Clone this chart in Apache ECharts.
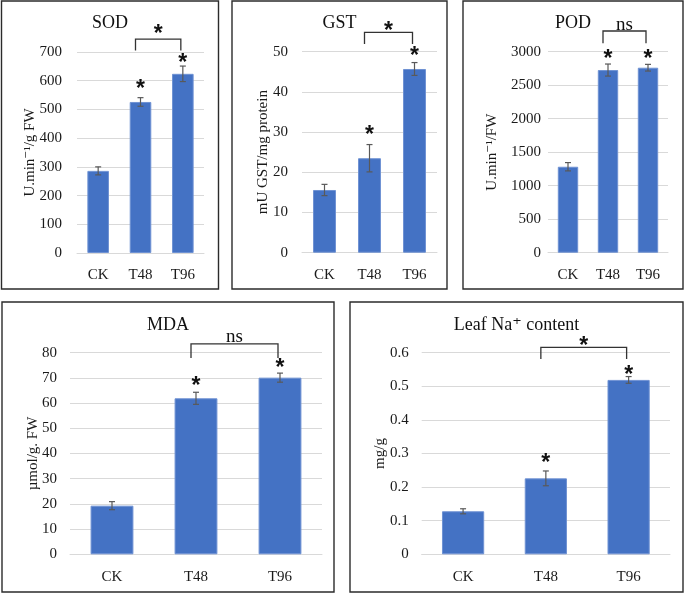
<!DOCTYPE html>
<html><head><meta charset="utf-8">
<script src="https://cdn.jsdelivr.net/npm/echarts/dist/echarts.min.js"></script>
<style>html,body{margin:0;padding:0;background:#fff}#c{width:685px;height:594px}</style>
</head><body><div id="c"></div>
<script>
// ---- data ----
const categories = ['CK', 'T48', 'T96'];

const sodValues = [286, 526, 624];
const sodErrors = [14, 15, 27];
const sodStars = [null, 585, 676];
const sodBracket = [1, 2, 745, 705, 777, '*'];
const sodTicks = [0, 700, 100];

const gstValues = [15.6, 23.5, 45.7];
const gstErrors = [1.4, 3.4, 1.6];
const gstStars = [null, 30.3, 50.0];
const gstBracket = [1, 2, 54.8, 51.9, 56.2, '*'];
const gstTicks = [0, 50, 10];

const podValues = [1283, 2726, 2761];
const podErrors = [62, 90, 50];
const podStars = [null, 2950, 2950];
const podBracket = [1, 2, 3309, 3125, 3398, 'ns'];
const podTicks = [0, 3000, 500];

const mdaValues = [19.3, 61.9, 70.1];
const mdaErrors = [1.6, 2.4, 1.8];
const mdaStars = [null, 68.5, 75.5];
const mdaBracket = [1, 2, 83.5, 77.9, 86.3, 'ns'];
const mdaTicks = [0, 80, 10];

const naValues = [0.128, 0.226, 0.519];
const naErrors = [0.0075, 0.022, 0.01];
const naStars = [null, 0.286, 0.548];
const naBracket = [1, 2, 0.616, 0.581, 0.633, '*'];
const naTicks = [0, 0.6, 0.1];

const titles = ['SOD', 'GST', 'POD', 'MDA', 'Leaf Na\u207A content'];
const yNames = ['U.min\u207B\u00B9/g FW', 'mU GST/mg protein', 'U.min\u207B\u00B9/FW', '\u00B5mol/g. FW', 'mg/g'];

// ---- layout / style ----
const SERIF = '"Liberation Serif", "DejaVu Serif", serif';
const SANS = '"Liberation Sans", Arial, sans-serif';
const panels = [
  {v: sodValues, e: sodErrors, s: sodStars, b: sodBracket, t: sodTicks, grid: {left: 77, top: 52, width: 127, height: 201}, box: [1.5, 1, 217, 288], titleY: 23, nameGap: 39, labelMargin: 15},
  {v: gstValues, e: gstErrors, s: gstStars, b: gstBracket, t: gstTicks, grid: {left: 302, top: 51.7, width: 135, height: 201}, box: [232, 1, 215, 288], titleY: 23, nameGap: 31, labelMargin: 14},
  {v: podValues, e: podErrors, s: podStars, b: podBracket, t: podTicks, grid: {left: 548, top: 51.7, width: 120, height: 201}, box: [463, 1, 220, 288], titleY: 23, nameGap: 48, labelMargin: 7},
  {v: mdaValues, e: mdaErrors, s: mdaStars, b: mdaBracket, t: mdaTicks, grid: {left: 70, top: 352.7, width: 252, height: 201.6}, box: [2, 302, 332, 290], titleY: 325, nameGap: 29, labelMargin: 13},
  {v: naValues, e: naErrors, s: naStars, b: naBracket, t: naTicks, grid: {left: 421.7, top: 352.7, width: 248.3, height: 201.6}, box: [350, 302, 333, 290], titleY: 325, nameGap: 34, labelMargin: 13}
];

const grids = [], xAxes = [], yAxes = [], series = [], graphics = [];
const starStyle = {text: '*', fontFamily: SANS, fontSize: 23, fontWeight: 'bold', fill: '#111', align: 'center', verticalAlign: 'middle'};

panels.forEach((p, k) => {
  grids.push(Object.assign({containLabel: false}, p.grid));
  xAxes.push({
    type: 'category', gridIndex: k, data: categories,
    axisLine: {lineStyle: {color: '#d9d9d9', width: 1}},
    axisTick: {show: false},
    axisLabel: {fontFamily: SERIF, fontSize: 15, color: '#1a1a1a', margin: 15}
  });
  yAxes.push({
    type: 'value', gridIndex: k, min: p.t[0], max: p.t[1], interval: p.t[2],
    name: yNames[k], nameLocation: 'middle', nameGap: p.nameGap, nameMoveOverlap: false,
    nameTextStyle: {fontFamily: SERIF, fontSize: 15, color: '#1a1a1a'},
    axisLine: {show: false}, axisTick: {show: false},
    splitLine: {lineStyle: {color: '#d9d9d9', width: 1}},
    axisLabel: {fontFamily: SERIF, fontSize: 15, color: '#1a1a1a', margin: p.labelMargin,
      formatter: v => String(Math.round(v * 1000) / 1000)}
  });
  series.push({
    type: 'bar', xAxisIndex: k, yAxisIndex: k, data: p.v, barWidth: '51%',
    itemStyle: {color: '#4472C4', borderColor: '#6f92d3', borderWidth: 1},
    silent: true, z: 2
  });
  // error bars
  series.push({
    type: 'custom', xAxisIndex: k, yAxisIndex: k, clip: false, silent: true, z: 3,
    data: p.v.map((val, i) => [i, val, p.e[i]]),
    renderItem: function (params, api) {
      const i = api.value(0), val = api.value(1), err = api.value(2);
      const hi = api.coord([i, val + err]), lo = api.coord([i, val - err]);
      const st = {stroke: '#595959', lineWidth: 1.2};
      return {type: 'group', children: [
        {type: 'line', shape: {x1: hi[0], y1: hi[1], x2: lo[0], y2: lo[1]}, style: st},
        {type: 'line', shape: {x1: hi[0] - 3, y1: hi[1], x2: hi[0] + 3, y2: hi[1]}, style: st},
        {type: 'line', shape: {x1: lo[0] - 3, y1: lo[1], x2: lo[0] + 3, y2: lo[1]}, style: st}
      ]};
    }
  });
  // stars above bars
  series.push({
    type: 'custom', xAxisIndex: k, yAxisIndex: k, clip: false, silent: true, z: 4,
    data: p.s.map((val, i) => [i, val]).filter(d => d[1] !== null),
    renderItem: function (params, api) {
      const c = api.coord([api.value(0), api.value(1)]);
      return {type: 'text', x: c[0], y: c[1] + 5, style: starStyle};
    }
  });
  // significance bracket
  series.push({
    type: 'custom', xAxisIndex: k, yAxisIndex: k, clip: false, silent: true, z: 4,
    data: [p.b.slice(0, 5)],
    renderItem: function (params, api) {
      const a = api.value(0), b = api.value(1), top = api.value(2), leg = api.value(3), lab = api.value(4);
      const l1 = api.coord([a, leg]), l2 = api.coord([a, top]), r2 = api.coord([b, top]), r1 = api.coord([b, leg]), lc = api.coord([(a + b) / 2, lab]);
      const xl = l1[0] - 5, xr = r1[0] - 2;
      const txt = p.b[5];
      const isStar = txt === '*';
      const labStyle = isStar ? starStyle : {text: txt, fontFamily: SERIF, fontSize: 19, fill: '#111', align: 'center', verticalAlign: 'middle'};
      return {type: 'group', children: [
        {type: 'polyline', shape: {points: [[xl, l1[1]], [xl, l2[1]], [xr, r2[1]], [xr, r1[1]]]}, style: {stroke: '#333', lineWidth: 1.3, fill: null}},
        {type: 'text', x: (xl + xr) / 2, y: lc[1] + (isStar ? 5 : 0), style: labStyle}
      ]};
    }
  });
  // panel box and title
  graphics.push({type: 'rect', shape: {x: p.box[0], y: p.box[1], width: p.box[2], height: p.box[3]}, style: {fill: null, stroke: '#2b2b2b', lineWidth: 1.4}, silent: true});
  graphics.push({type: 'text', x: p.box[0] + p.box[2] / 2, y: p.titleY, style: {text: titles[k], fontFamily: SERIF, fontSize: 18, fill: '#111', align: 'center', verticalAlign: 'middle'}, silent: true});
});

const chart = echarts.init(document.getElementById('c'), null, {renderer: 'canvas'});
chart.setOption({
  animation: false,
  backgroundColor: '#fff',
  grid: grids, xAxis: xAxes, yAxis: yAxes, series: series, graphic: graphics
});
</script>
</body></html>
